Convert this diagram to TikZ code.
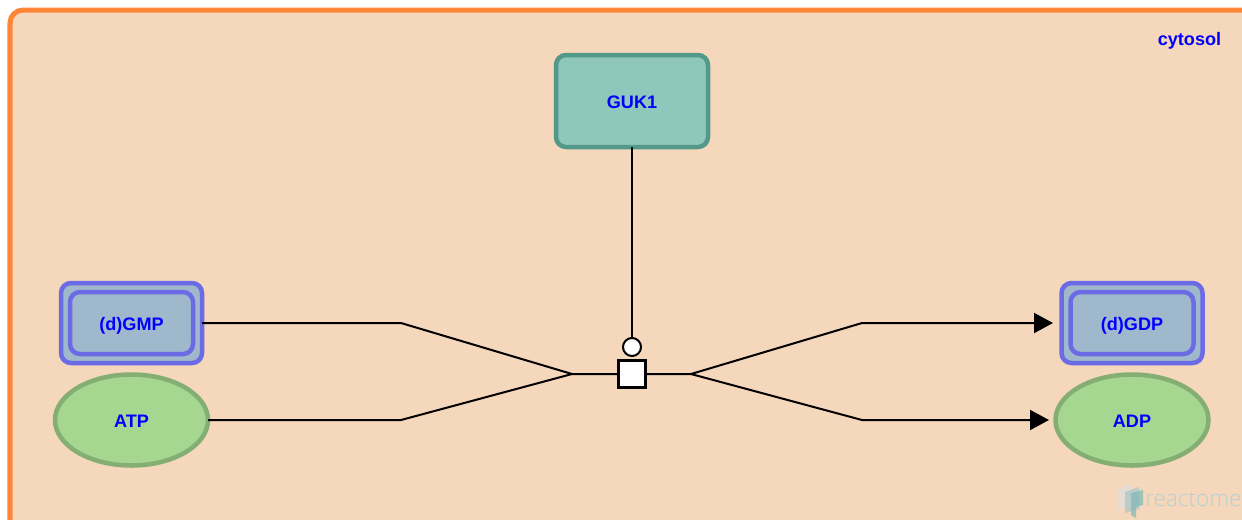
\documentclass[tikz,border=0pt]{standalone}
\usepackage{fontspec}
\setmainfont{Liberation Sans}
\newfontfamily\logofont{Open Sans Light}
\usetikzlibrary{arrows.meta,shapes.geometric}
\definecolor{compfill}{HTML}{F5D7BC}
\definecolor{compline}{HTML}{FF8637}
\definecolor{protfill}{HTML}{8FC7BC}
\definecolor{protline}{HTML}{52998A}
\definecolor{setfill}{HTML}{A0B8CC}
\definecolor{setline}{HTML}{6B6BE6}
\definecolor{chemfill}{HTML}{A6D791}
\definecolor{chemline}{HTML}{85AE75}
\definecolor{logotext}{HTML}{B5D0D2}
\tikzset{
    label text/.style={font=\fontsize{10.3}{12}\selectfont\bfseries, text=blue, text height=0.3cm, text depth=0pt},
    protein/.style={draw=protline, fill=protfill, line width=0.09cm, rounded corners=0.2cm, minimum width=3.04cm, minimum height=1.84cm, outer sep=0pt, label text},
    set outer/.style={draw=setline, fill=setfill, line width=0.09cm, rounded corners=0.2cm, minimum width=2.82cm, minimum height=1.6cm, outer sep=0pt},
    set inner/.style={draw=setline, fill=setfill, line width=0.09cm, rounded corners=0.2cm, minimum width=2.46cm, minimum height=1.24cm, outer sep=0pt, label text},
    chemical/.style={draw=chemline, fill=chemfill, ellipse, line width=0.09cm, minimum width=3.06cm, minimum height=1.82cm, inner sep=0pt, outer sep=0pt, label text},
    conn/.style={line width=0.04cm, black},
    connarrow/.style={conn, -{Triangle[length=0.38cm, width=0.4cm]}}
}
\begin{document}
\begin{tikzpicture}
    \useasboundingbox (0,0) rectangle (24.84,-10.38);
    \clip (0,0) rectangle (24.84,-10.38);
    \fill[white] (0,0) rectangle (24.84,-10.38);

    % compartment runs past the right and bottom edges
    \draw[compline, fill=compfill, line width=0.1cm, rounded corners=0.26cm] (0.2,-0.2) rectangle (26,-12);
    \node[label text] (cytosol) at (23.79,-0.76) {cytosol};

    % entities
    \node[protein] (guk) at (12.64,-2.02) {GUK1};
    \node[set outer] (dgmp) at (2.63,-6.46) {};
    \node[set inner] (dgmpinner) at (2.63,-6.46) {(d)GMP};
    \node[chemical] (atp) at (2.63,-8.4) {ATP};
    \node[set outer] (dgdp) at (22.64,-6.46) {};
    \node[set inner] (dgdpinner) at (22.64,-6.46) {(d)GDP};
    \node[chemical] (adp) at (22.64,-8.4) {ADP};

    % reaction
    \coordinate (gmpbend) at (8.02,-6.46);
    \coordinate (atpbend) at (8.02,-8.4);
    \coordinate (joinleft) at (11.44,-7.48);
    \coordinate (joinright) at (13.82,-7.48);
    \coordinate (gdpbend) at (17.24,-6.46);
    \coordinate (adpbend) at (17.24,-8.4);
    \coordinate (gdpend) at (21.06,-6.46);
    \coordinate (adpend) at (20.98,-8.4);

    \draw[conn] (dgmp.east) -- (gmpbend) -- (joinleft) -- (joinright);
    \draw[conn] (atp.east) -- (atpbend) -- (joinleft);
    \draw[connarrow] (joinright) -- (gdpbend) -- (gdpend);
    \draw[connarrow] (joinright) -- (adpbend) -- (adpend);

    \node[draw=black, fill=white, line width=0.06cm, minimum size=0.54cm, inner sep=0pt, outer sep=0pt] (reaction) at (12.64,-7.48) {};
    \node[draw=black, fill=white, circle, line width=0.04cm, minimum size=0.36cm, inner sep=0pt, outer sep=0pt] (catalyst) at (12.64,-6.94) {};
    \draw[conn] (guk.south) -- (catalyst.north);

    % logo
    \fill[gray!25, opacity=0.7] (22.36,-9.78) -- (22.62,-9.68) -- (22.62,-10.1) -- (22.36,-10.2) -- cycle;
    \fill[logotext!90!gray, opacity=0.8] (22.5,-9.84) -- (22.78,-9.74) -- (22.78,-10.18) -- (22.5,-10.26) -- cycle;
    \fill[logotext!70!teal, opacity=0.7] (22.62,-9.86) -- (22.86,-9.8) -- (22.86,-10.1) -- (22.72,-10.14) -- (22.72,-10.36) -- (22.62,-10.3) -- cycle;
    \node[logotext, font=\logofont\fontsize{12.8}{14}\selectfont, anchor=base west, inner sep=0pt] (logo) at (22.9,-10.12) {reactome};
\end{tikzpicture}
\end{document}
